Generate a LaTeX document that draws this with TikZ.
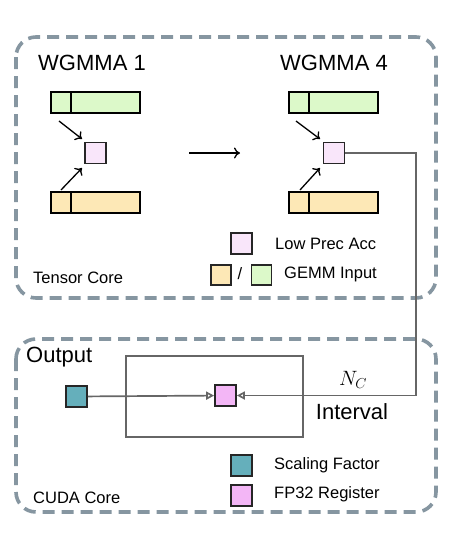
\documentclass[tikz,border=0pt]{standalone}
\usepackage{fontspec}
\setmainfont{Liberation Sans}
\usetikzlibrary{arrows.meta}
\definecolor{dashgray}{HTML}{8696A1}
\definecolor{ingreen}{HTML}{DCF9C9}
\definecolor{inorange}{HTML}{FDE8B6}
\definecolor{lowpink}{HTML}{F9E6FA}
\definecolor{fppink}{HTML}{F3B6F6}
\definecolor{teal2}{HTML}{65AFBB}
\definecolor{linegray}{HTML}{666666}
\tikzset{
  region/.style={draw=dashgray, line width=3.6pt, dash pattern=on 12pt off 7pt, rounded corners=20pt},
  bar/.style={draw=black, line width=1.8pt, minimum width=89pt, minimum height=21pt, inner sep=0pt},
  sq/.style={draw=black!85, line width=1.7pt, minimum size=21pt, inner sep=0pt},
  divider/.style={line width=1.8pt},
  feed/.style={line width=1.3pt, -{To[length=6pt,width=11pt]}},
  glink/.style={draw=linegray, line width=1.7pt, -{Triangle[open,length=8pt,width=8pt]}},
  big/.style={font=\fontsize{22}{24}\selectfont, inner sep=0pt},
  small/.style={font=\fontsize{16.5}{18}\selectfont, inner sep=0pt},
}
\begin{document}
\begin{tikzpicture}[x=1pt,y=-1pt]
\useasboundingbox (0,0) rectangle (454,550);
% regions
\draw[region] (16,37) rectangle (436,298);
\draw[region] (16,339) rectangle (436,512);
% titles
\node[big] (w1) at (92,63) {WGMMA 1};
\node[big] (w4) at (334,63) {WGMMA 4};
% left group
\node[bar, fill=ingreen] (g1) at (95.5,102.5) {};
\draw[divider] ([xshift=21pt]g1.north west) -- ([xshift=21pt]g1.south west);
\node[sq, fill=lowpink] (a1) at (95.5,153) {};
\node[bar, fill=inorange] (o1) at (95.5,202.5) {};
\draw[divider] ([xshift=21pt]o1.north west) -- ([xshift=21pt]o1.south west);
\coordinate (g1s) at (59,121);
\coordinate (g1e) at (82,139);
\coordinate (o1s) at (61,190);
\coordinate (o1e) at (82,168);
\draw[feed] (g1s) -- (g1e);
\draw[feed] (o1s) -- (o1e);
% middle arrow
\coordinate (ms) at (189,153);
\coordinate (me) at (240,153);
\draw[feed] (ms) -- (me);
% right group
\node[bar, fill=ingreen] (g4) at (333.5,102.5) {};
\draw[divider] ([xshift=21pt]g4.north west) -- ([xshift=21pt]g4.south west);
\node[sq, fill=lowpink] (a4) at (334,153) {};
\node[bar, fill=inorange] (o4) at (333.5,202.5) {};
\draw[divider] ([xshift=21pt]o4.north west) -- ([xshift=21pt]o4.south west);
\coordinate (g4s) at (296,121);
\coordinate (g4e) at (320,139);
\coordinate (o4s) at (300,190);
\coordinate (o4e) at (320,168);
\draw[feed] (g4s) -- (g4e);
\draw[feed] (o4s) -- (o4e);
% legend top
\node[sq, fill=lowpink] (lg1) at (241.5,243.5) {};
\node[small, anchor=west] (lt1) at (275,243.5) {Low Prec Acc};
\node[sq, fill=inorange, minimum size=20pt] (lg2) at (221,275) {};
\node[small] (slash) at (240,274) {/};
\node[sq, fill=ingreen, minimum size=20pt] (lg3) at (261.5,275) {};
\node[small, anchor=west] (lt2) at (284,274.5) {GEMM Input};
\node[small, anchor=west] (tc) at (33,278) {Tensor Core};
% bottom region
\node[big, anchor=west] (out) at (26,357) {Output};
\node[draw=linegray, line width=1.7pt, minimum width=177pt, minimum height=81pt, inner sep=0pt] (intv) at (214.5,396.5) {};
\node[sq, fill=teal2] (sf) at (76.5,396.5) {};
\node[sq, fill=fppink] (fp) at (225.5,395.5) {};
\draw[glink] (sf) -- (fp);
\coordinate (turn) at (416,395.5);
\draw[glink] (a4.east) -| (turn) -- (fp.east);
\node[font=\fontsize{21}{24}\selectfont, inner sep=0pt] (nc) at (353,380) {$N_C$};
\node[big] (iv) at (352,412) {Interval};
% legend bottom
\node[sq, fill=teal2] (lg4) at (241.5,465.5) {};
\node[small, anchor=west] (lt4) at (274,465.5) {Scaling Factor};
\node[sq, fill=fppink] (lg5) at (241.5,495.5) {};
\node[small, anchor=west] (lt5) at (274,494) {FP32 Register};
\node[small, anchor=west] (cc) at (33,498) {CUDA Core};
\end{tikzpicture}
\end{document}
